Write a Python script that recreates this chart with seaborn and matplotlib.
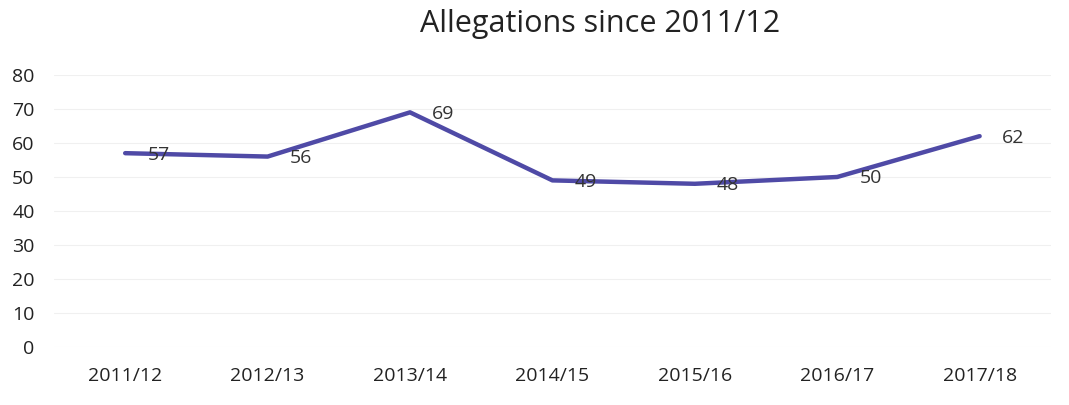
import matplotlib
matplotlib.use("Agg")
import matplotlib.pyplot as plt
import seaborn as sns
import pandas as pd

years = ["2011/12", "2012/13", "2013/14", "2014/15", "2015/16", "2016/17", "2017/18"]
allegations = [57, 56, 69, 49, 48, 50, 62]
yticks = [0, 10, 20, 30, 40, 50, 60, 70, 80]

sns.set_theme(style="white")
plt.rcParams['font.family'] = ['Open Sans', 'DejaVu Sans']

df = pd.DataFrame({"year": years, "n": allegations})

fig = plt.figure(figsize=(10.69, 4.05), dpi=100)
ax = fig.add_axes([0.0505, 0.143, 0.9325, 0.672])
sns.lineplot(data=df, x="year", y="n", ax=ax, color="#4f4aa6", linewidth=3.2, sort=False)

for i, v in enumerate(allegations):
    ax.annotate(str(v), (i, v), xytext=(16, -1), textcoords="offset points",
                ha="left", va="center", fontsize=14, color="#333333")

ax.set_xlim(-0.5, len(years) - 0.5)
ax.set_ylim(0, 80)
ax.set_yticks(yticks)
ax.set_yticklabels([str(t) for t in yticks])
ax.yaxis.grid(True, color="#f0f0f0", linewidth=0.8)
ax.set_axisbelow(True)
for s in ax.spines.values():
    s.set_visible(False)
ax.tick_params(axis="both", length=0, labelsize=14, labelcolor="#222222")
ax.tick_params(axis="y", pad=14)
ax.tick_params(axis="x", pad=14)
ax.set_xlabel("")
ax.set_ylabel("")

fig.text(0.561, 0.94, "Allegations since 2011/12", ha="center", va="center",
         fontsize=22, color="#222222")

fig.savefig("out.png", dpi=100)
